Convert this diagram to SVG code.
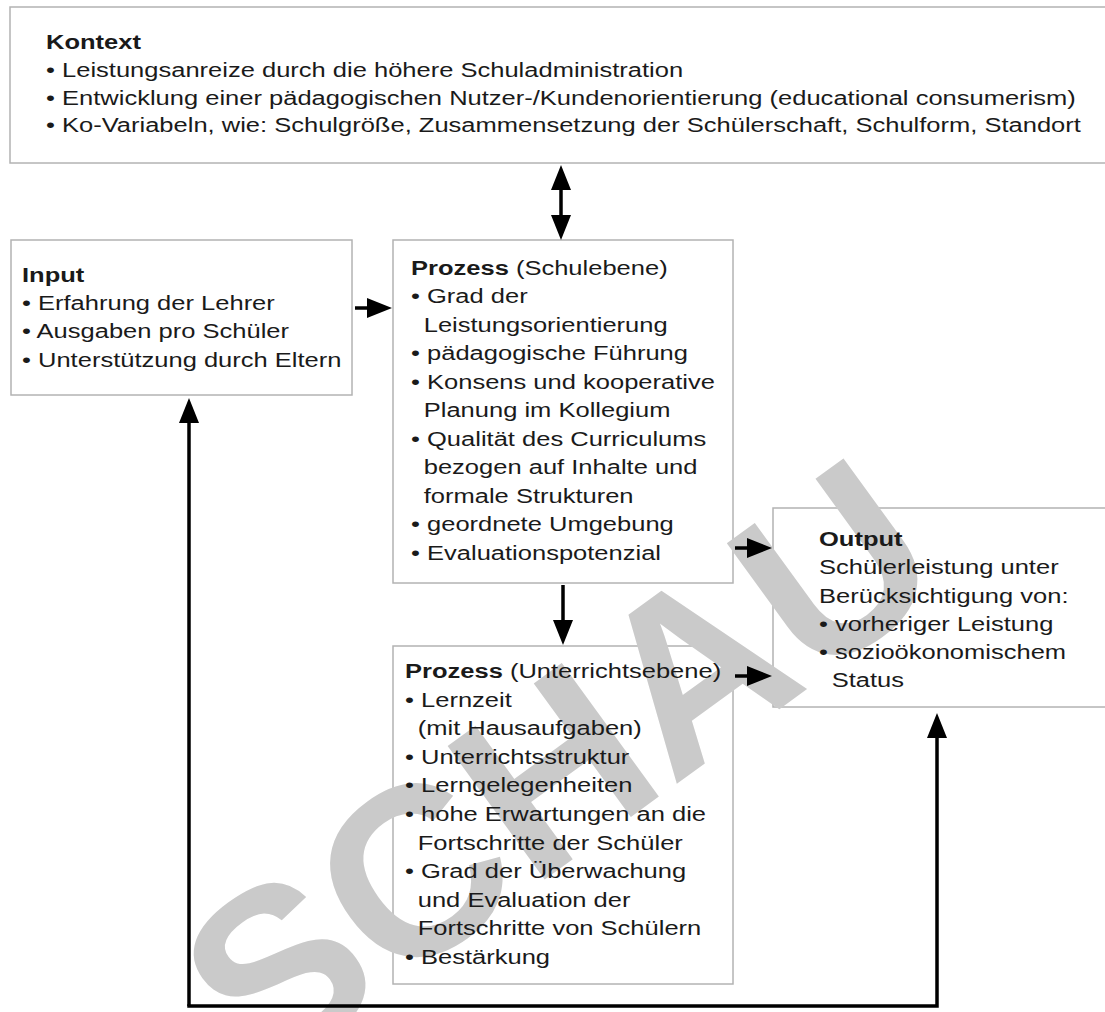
<svg xmlns="http://www.w3.org/2000/svg" width="1105" height="1012" viewBox="0 0 1105 1012">
<style>
.box{fill:#fff;stroke:#b3b3b3;stroke-width:1.5}
.t{font-family:"Liberation Sans",Arial,sans-serif;font-size:21px;fill:#1a1a1a}
.b{font-weight:bold}
.c{fill:none;stroke:#000;stroke-width:3.5}
.wm{font-family:"Liberation Sans",Arial,sans-serif;font-weight:bold;font-size:240px;fill:#cacaca}
</style>
<defs>
<marker id="ah" markerUnits="userSpaceOnUse" markerWidth="25" markerHeight="20" refX="15" refY="10" orient="auto-start-reverse" viewBox="0 0 25 20">
<path d="M0,0 L25,10 L0,20 z" fill="#000"/>
</marker>
</defs>
<rect width="1105" height="1012" fill="#fff"/>
<g id="kontext"><rect class="box" x="10" y="7" width="1110" height="156"/></g>
<g id="input"><rect class="box" x="11" y="240" width="341" height="155"/></g>
<g id="prozess-schule"><rect class="box" x="393" y="240" width="340" height="343"/></g>
<g id="output"><rect class="box" x="773" y="508" width="345" height="199"/></g>
<g id="prozess-unterricht"><rect class="box" x="393" y="646" width="340" height="338"/></g>
<text class="wm" transform="translate(262 1085) rotate(-36)">SCHAU</text>
<g id="connectors">
<path class="c" d="M561,175 V230" marker-start="url(#ah)" marker-end="url(#ah)"/>
<path class="c" d="M355,308 H382" marker-end="url(#ah)"/>
<path class="c" d="M735,548 H762" marker-end="url(#ah)"/>
<path class="c" d="M563,585 V635" marker-end="url(#ah)"/>
<path class="c" d="M735,676 H762" marker-end="url(#ah)"/>
<path class="c" d="M189,1006 V408" marker-end="url(#ah)"/>
<path class="c" d="M187.25,1006 H937 V723" marker-end="url(#ah)"/>
</g>
<g id="kontext-text" class="t" transform="translate(46 0) scale(1.215 1)">
<text x="0" y="49" class="b">Kontext</text>
<text x="0" y="77">• Leistungsanreize durch die höhere Schuladministration</text>
<text x="0" y="105">• Entwicklung einer pädagogischen Nutzer-/Kundenorientierung (educational consumerism)</text>
<text x="0" y="132">• Ko-Variabeln, wie: Schulgröße, Zusammensetzung der Schülerschaft, Schulform, Standort</text>
</g>
<g id="input-text" class="t" transform="translate(22 0) scale(1.215 1)">
<text x="0" y="282" class="b">Input</text>
<text x="0" y="310">• Erfahrung der Lehrer</text>
<text x="0" y="338">• Ausgaben pro Schüler</text>
<text x="0" y="367">• Unterstützung durch Eltern</text>
</g>
<g id="prozess-schule-text" class="t" transform="translate(411 0) scale(1.215 1)">
<text x="0" y="275"><tspan class="b">Prozess</tspan> (Schulebene)</text>
<text x="0" y="303.5">• Grad der</text>
<text x="10.5" y="332">Leistungsorientierung</text>
<text x="0" y="360.5">• pädagogische Führung</text>
<text x="0" y="389">• Konsens und kooperative</text>
<text x="10.5" y="417.5">Planung im Kollegium</text>
<text x="0" y="446">• Qualität des Curriculums</text>
<text x="10.5" y="474.5">bezogen auf Inhalte und</text>
<text x="10.5" y="503">formale Strukturen</text>
<text x="0" y="531.5">• geordnete Umgebung</text>
<text x="0" y="560">• Evaluationspotenzial</text>
</g>
<g id="output-text" class="t" transform="translate(819 0) scale(1.215 1)">
<text x="0" y="546" class="b">Output</text>
<text x="0" y="574.5">Schülerleistung unter</text>
<text x="0" y="603">Berücksichtigung von:</text>
<text x="0" y="631">• vorheriger Leistung</text>
<text x="0" y="659">• sozioökonomischem</text>
<text x="10.5" y="687">Status</text>
</g>
<g id="prozess-unterricht-text" class="t" transform="translate(405 0) scale(1.215 1)">
<text x="0" y="678"><tspan class="b">Prozess</tspan> (Unterrichtsebene)</text>
<text x="0" y="706.6">• Lernzeit</text>
<text x="10.5" y="735.2">(mit Hausaufgaben)</text>
<text x="0" y="763.8">• Unterrichtsstruktur</text>
<text x="0" y="792.4">• Lerngelegenheiten</text>
<text x="0" y="821">• hohe Erwartungen an die</text>
<text x="10.5" y="849.6">Fortschritte der Schüler</text>
<text x="0" y="878.2">• Grad der Überwachung</text>
<text x="10.5" y="906.8">und Evaluation der</text>
<text x="10.5" y="935.4">Fortschritte von Schülern</text>
<text x="0" y="964">• Bestärkung</text>
</g>
</svg>
